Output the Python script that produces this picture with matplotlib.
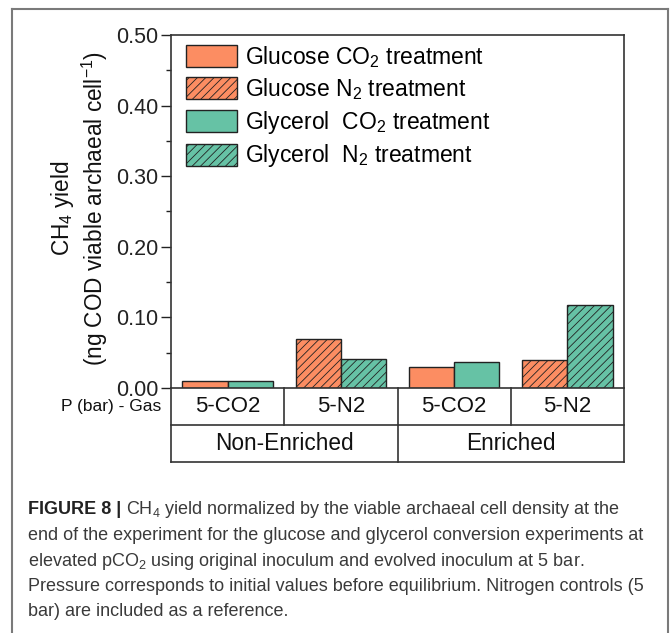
import matplotlib
matplotlib.use("Agg")
import matplotlib.pyplot as plt
from matplotlib.patches import Patch
from matplotlib.lines import Line2D
from matplotlib import font_manager as fm
import numpy as np

# ---- data ----
conditions = ["5-CO2", "5-N2", "5-CO2", "5-N2"]
groups = ["Non-Enriched", "Enriched"]
glucose = [0.010, 0.069, 0.030, 0.040]
glycerol = [0.010, 0.041, 0.037, 0.118]
hatched = [False, True, False, True]
legend_labels = ["Glucose CO$_2$ treatment", "Glucose N$_2$ treatment",
                 "Glycerol  CO$_2$ treatment", "Glycerol  N$_2$ treatment"]
yticks = [0.0, 0.1, 0.2, 0.3, 0.4, 0.5]

ORANGE = "#FC8D62"
GREEN = "#66C2A5"

plt.rcParams["font.family"] = ["Liberation Sans", "DejaVu Sans"]
plt.rcParams["mathtext.fontset"] = "custom"
plt.rcParams["mathtext.rm"] = "Liberation Sans"
plt.rcParams["mathtext.it"] = "Liberation Sans:italic"
plt.rcParams["mathtext.bf"] = "Liberation Sans:bold"
plt.rcParams["hatch.linewidth"] = 0.6

W, H = 670, 633
fig = plt.figure(figsize=(W / 100, H / 100), dpi=100)

def fx(px):
    return px / W

def fy(py):
    return 1 - py / H

ax_l, ax_r, ax_t, ax_b = 171, 624, 35, 388
ax = fig.add_axes([fx(ax_l), fy(ax_b), fx(ax_r - ax_l), (ax_b - ax_t) / H])

x = np.arange(len(conditions))
bw = 0.4
for i in range(len(conditions)):
    h = "////" if hatched[i] else None
    ax.bar(x[i] - bw / 2, glucose[i], bw, color=ORANGE, edgecolor="#222222",
           linewidth=1.0, hatch=h)
    ax.bar(x[i] + bw / 2, glycerol[i], bw, color=GREEN, edgecolor="#222222",
           linewidth=1.0, hatch=h)

ax.set_xlim(-0.5, len(conditions) - 0.5)
ax.set_ylim(0, 0.5)
ax.set_yticks(yticks)
ax.set_yticklabels([f"{v:.2f}" for v in yticks])
ax.set_yticks(np.arange(0.05, 0.5, 0.1), minor=True)
ax.set_xticks([])
ax.tick_params(axis="y", which="major", direction="out", length=7, width=1,
               labelsize=15.5, pad=2, colors="#222222")
ax.tick_params(axis="y", which="minor", direction="out", length=3.5, width=1,
               colors="#222222")
for s in ax.spines.values():
    s.set_linewidth(1.2)
    s.set_color("#333333")

handles = [
    Patch(facecolor=ORANGE, edgecolor="#222222", linewidth=1.0),
    Patch(facecolor=ORANGE, edgecolor="#222222", linewidth=1.0, hatch="////"),
    Patch(facecolor=GREEN, edgecolor="#222222", linewidth=1.0),
    Patch(facecolor=GREEN, edgecolor="#222222", linewidth=1.0, hatch="////"),
]
ax.legend(handles, legend_labels, loc="upper left", bbox_to_anchor=(0.006, 1.011),
          frameon=False, fontsize=16.5, handlelength=2.2, handleheight=1.1,
          handletextpad=0.35, labelspacing=0.29, borderaxespad=0.15)

# ---- category table under the axes ----
tb_b = 462
tab = fig.add_axes([fx(ax_l), fy(tb_b), fx(ax_r - ax_l), (tb_b - ax_b) / H])
tab.set_xlim(-0.5, len(conditions) - 0.5)
tab.set_ylim(0, 2)
tab.axis("off")
lc = "#333333"
lw = 1.2
tab.plot([-0.5, 3.5], [1, 1], color=lc, lw=lw, clip_on=False)
tab.plot([-0.5, 3.5], [0, 0], color=lc, lw=lw, clip_on=False)
tab.plot([-0.5, -0.5], [0, 2], color=lc, lw=lw, clip_on=False)
tab.plot([3.5, 3.5], [0, 2], color=lc, lw=lw, clip_on=False)
tab.plot([1.5, 1.5], [0, 2], color=lc, lw=lw, clip_on=False)
for xv in [0.5, 2.5]:
    tab.plot([xv, xv], [1, 2], color=lc, lw=lw, clip_on=False)
for i, c in enumerate(conditions):
    tab.text(x[i], 1.5, c, ha="center", va="center", fontsize=16, color="#111111")
for j, g in enumerate(groups):
    tab.text(2 * j + 0.5, 0.5, g, ha="center", va="center", fontsize=16.3, color="#111111")
tab.text(-0.5, 1.5, "P (bar) - Gas  ", ha="right", va="center", fontsize=12.5,
         color="#111111")

# ---- y label (two lines) ----
fig.text(fx(63), fy(208), "CH$_4$ yield", rotation=90, ha="center", va="center",
         fontsize=16.3, color="#111111")
fig.text(fx(95), fy(208), "(ng COD viable archaeal cell$^{-1}$)", rotation=90,
         ha="center", va="center", fontsize=16.3, color="#111111")

# ---- outer border ----
bc = "#7a7a7a"
fig.add_artist(Line2D([fx(12), fx(12)], [fy(9), 0], color=bc, lw=1.5))
fig.add_artist(Line2D([fx(12), fx(668)], [fy(9), fy(9)], color=bc, lw=1.5))
fig.add_artist(Line2D([fx(668), fx(668)], [fy(9), 0], color=bc, lw=1.5))

# ---- caption ----
avail = {f.name for f in fm.fontManager.ttflist}
capfam = ["Liberation Sans Narrow"] if "Liberation Sans Narrow" in avail else ["Liberation Sans"]
capsize = 13.0
capcol = "#3a3a3a"
renderer = fig.canvas.get_renderer()
t0 = fig.text(fx(28), fy(514), "FIGURE 8 | ", fontsize=capsize, fontweight="bold",
              family=capfam, color="#222222", va="baseline", ha="left")
bb = t0.get_window_extent(renderer=renderer)
fig.text(bb.x1 / W, fy(514), "CH$_4$ yield normalized by the viable archaeal cell density at the",
         fontsize=capsize, family=capfam, color=capcol, va="baseline", ha="left")
lines = [
    "end of the experiment for the glucose and glycerol conversion experiments at",
    "elevated pCO$_2$ using original inoculum and evolved inoculum at 5 bar.",
    "Pressure corresponds to initial values before equilibrium. Nitrogen controls (5",
    "bar) are included as a reference.",
]
for k, ln in enumerate(lines):
    fig.text(fx(28), fy(540 + 25.5 * k), ln, fontsize=capsize, family=capfam,
             color=capcol, va="baseline", ha="left")

fig.savefig("out.png", dpi=100)
